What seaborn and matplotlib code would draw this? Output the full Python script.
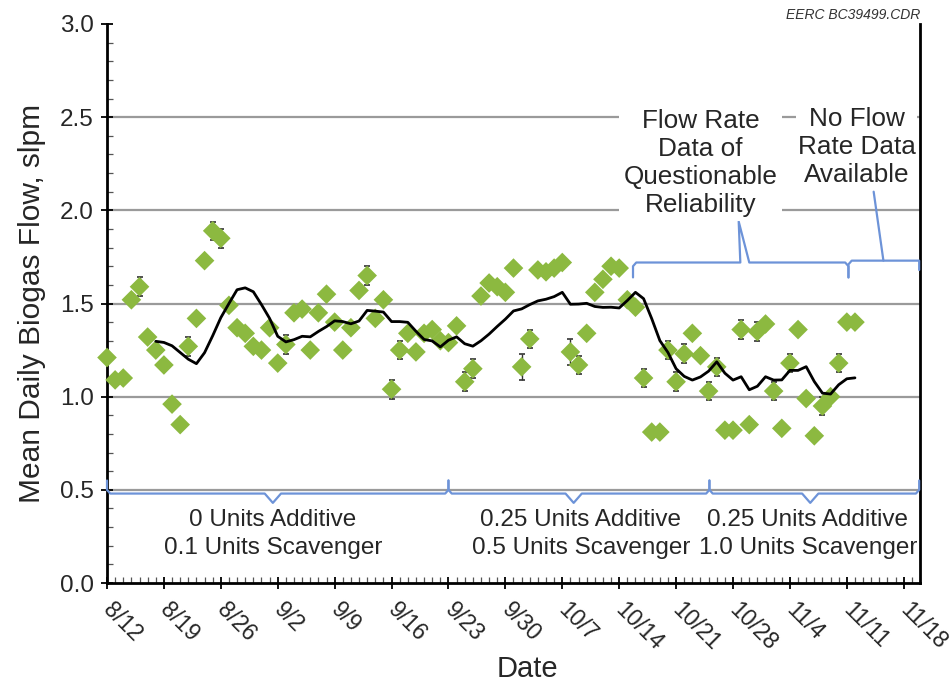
import numpy as np
import pandas as pd
import matplotlib
matplotlib.use("Agg")
import matplotlib.pyplot as plt
import seaborn as sns

# ---------------- data ----------------
tick_labels = ["8/12", "8/19", "8/26", "9/2", "9/9", "9/16", "9/23", "9/30",
               "10/7", "10/14", "10/21", "10/28", "11/4", "11/11", "11/18"]

# mean daily biogas flow (slpm), one value per day starting 8/12
flow = [1.21, 1.09, 1.10, 1.52, 1.59, 1.32, 1.25, 1.17, 0.96, 0.85,
        1.27, 1.42, 1.73, 1.89, 1.85, 1.49, 1.37, 1.34, 1.27, 1.25,
        1.37, 1.18, 1.28, 1.45, 1.47, 1.25, 1.45, 1.55, 1.40, 1.25,
        1.37, 1.57, 1.65, 1.42, 1.52, 1.04, 1.25, 1.34, 1.24, 1.34,
        1.36, 1.30, 1.29, 1.38, 1.08, 1.15, 1.54, 1.61, 1.59, 1.56,
        1.69, 1.16, 1.31, 1.68, 1.67, 1.69, 1.72, 1.24, 1.17, 1.34,
        1.56, 1.63, 1.70, 1.69, 1.52, 1.48, 1.10, 0.81, 0.81, 1.25,
        1.08, 1.23, 1.34, 1.22, 1.03, 1.16, 0.82, 0.82, 1.36, 0.85,
        1.35, 1.39, 1.03, 0.83, 1.18, 1.36, 0.99, 0.79, 0.95, 1.00,
        1.18, 1.40, 1.40]

flow_err = [0, 0, 0, 0, .05, 0, 0, 0, 0, 0,
            .05, 0, 0, .05, .05, 0, 0, 0, 0, 0,
            0, 0, .05, 0, 0, 0, 0, 0, 0, 0,
            0, 0, .05, 0, 0, .05, .05, 0, 0, 0,
            0, 0, 0, 0, .05, .05, 0, 0, 0, 0,
            0, .07, .05, 0, 0, 0, 0, .07, .05, 0,
            0, 0, 0, 0, 0, 0, .05, 0, 0, .05,
            .05, .05, 0, 0, .05, .05, 0, 0, .05, 0,
            .05, 0, .05, 0, .05, 0, 0, 0, .05, 0,
            .05, 0, 0]

# 7-day average line, days 6..92
avg7 = [1.297, 1.291, 1.273, 1.237, 1.201, 1.177, 1.236, 1.327, 1.424, 1.500,
        1.574, 1.584, 1.563, 1.494, 1.420, 1.324, 1.294, 1.306, 1.324, 1.321,
        1.350, 1.376, 1.407, 1.403, 1.391, 1.406, 1.463, 1.459, 1.454, 1.403,
        1.403, 1.399, 1.351, 1.307, 1.299, 1.267, 1.303, 1.321, 1.284, 1.271,
        1.300, 1.336, 1.377, 1.416, 1.460, 1.471, 1.494, 1.514, 1.523, 1.537,
        1.560, 1.496, 1.497, 1.501, 1.484, 1.479, 1.480, 1.476, 1.516, 1.560,
        1.526, 1.419, 1.301, 1.237, 1.150, 1.109, 1.089, 1.106, 1.137, 1.187,
        1.126, 1.089, 1.107, 1.037, 1.056, 1.107, 1.089, 1.090, 1.141, 1.141,
        1.161, 1.081, 1.019, 1.014, 1.064, 1.096, 1.101]

phase_labels = ["0 Units Additive\n0.1 Units Scavenger",
                "0.25 Units Additive\n0.5 Units Scavenger",
                "0.25 Units Additive\n1.0 Units Scavenger"]

days = np.arange(len(flow))
avg_days = np.arange(6, 6 + len(avg7))
df = pd.DataFrame({"day": days, "flow": flow, "err": flow_err})
df_avg = pd.DataFrame({"day": avg_days, "avg": avg7})

# ---------------- style ----------------
sns.set_style("ticks")
plt.rcParams["font.family"] = ["Liberation Sans", "DejaVu Sans"]

GREEN = "#8cb940"
BLUE = "#6d93d8"
GRID = "#9a9a9a"

fig = plt.figure(figsize=(9.53, 6.87), dpi=100)
ax = fig.add_axes([107 / 953, 1 - 583 / 687, (920 - 107) / 953, (583 - 24) / 687])

# grid lines
for g in [0.5, 1.0, 1.5, 2.0, 2.5]:
    ax.axhline(g, color=GRID, lw=1.6, zorder=0)

e = df[df["err"] > 0]
ax.errorbar(e["day"], e["flow"], yerr=e["err"], fmt="none", ecolor="#333333",
            elinewidth=1.0, capsize=2.5, capthick=1.2, zorder=2)
sns.scatterplot(data=df, x="day", y="flow", marker="D", s=100, color=GREEN,
                edgecolor="none", linewidth=0, ax=ax, zorder=3, legend=False,
                clip_on=False)
sns.lineplot(data=df_avg, x="day", y="avg", color="black", lw=2.0, ax=ax,
             zorder=5, legend=False)

# ---------------- braces ----------------
def bottom_brace(x0, x1, xm):
    xs = [x0, x0, x0 + 0.4, xm - 1.0, xm, xm + 1.0, x1 - 0.4, x1, x1]
    ys = [0.55, 0.50, 0.48, 0.48, 0.43, 0.48, 0.48, 0.50, 0.55]
    ax.plot(xs, ys, color=BLUE, lw=1.6, zorder=6, clip_on=False)

bottom_brace(0, 42, 20.4)
bottom_brace(42, 74.1, 57.4)
bottom_brace(74.1, 99.9, 86.5)

# questionable reliability brace
ax.plot([64.7, 64.7, 65.1, 77.9, 77.7, 79.0, 90.8, 91.2, 91.2],
        [1.64, 1.70, 1.72, 1.72, 1.94, 1.72, 1.72, 1.70, 1.64],
        color=BLUE, lw=1.6, zorder=6)
# no data brace
ax.plot([91.2, 91.2, 91.6, 99.9, 99.9], [1.64, 1.71, 1.73, 1.73, 1.68],
        color=BLUE, lw=1.6, zorder=6, clip_on=False)
ax.plot([94.3, 95.5], [2.10, 1.73], color=BLUE, lw=1.6, zorder=6)

# ---------------- text ----------------
phase_centers = [20.4, 58.3, 86.2]
for lab, xc in zip(phase_labels, phase_centers):
    ax.text(xc, 0.263, lab, ha="center", va="center", fontsize=17.5,
            linespacing=1.3, zorder=7)

ax.text(73.0, 2.255, "Flow Rate\nData of\nQuestionable\nReliability",
        ha="center", va="center", fontsize=18.8, linespacing=1.22, zorder=7,
        bbox=dict(facecolor="white", edgecolor="none", pad=3))
ax.text(92.2, 2.34, "No Flow\nRate Data\nAvailable",
        ha="center", va="center", fontsize=18.8, linespacing=1.22, zorder=7,
        bbox=dict(facecolor="white", edgecolor="none", pad=1))

fig.text(920 / 953, 1 - 15 / 687, "EERC BC39499.CDR", ha="right", va="center",
         fontsize=10, style="italic", color="#333333")

# ---------------- axes ----------------
ax.set_xlim(0, 100)
ax.set_ylim(0, 3.0)
ax.set_xticks(np.arange(0, 99, 7))
ax.set_xticklabels(tick_labels, rotation=-45, ha="left", va="center",
                   rotation_mode="anchor", fontsize=16.5)
ax.set_xticks(np.arange(0, 101, 1), minor=True)
ax.set_yticks(np.arange(0, 3.01, 0.5))
ax.set_yticklabels([f"{v:.1f}" for v in np.arange(0, 3.01, 0.5)], fontsize=17.5)
ax.set_yticks(np.arange(0, 3.01, 0.1), minor=True)
ax.tick_params(axis="both", which="major", direction="inout", length=9,
               width=1.3, color="black", pad=5)
ax.tick_params(axis="x", which="major", pad=12)
ax.tick_params(axis="both", which="minor", direction="in", length=4,
               width=0.9, color="#555555")
for side in ["left", "bottom", "right"]:
    ax.spines[side].set_linewidth(2.0)
    ax.spines[side].set_color("black")
ax.spines["top"].set_visible(False)

ax.set_xlabel("Date", fontsize=21)
ax.xaxis.set_label_coords(0.517, -0.128)
ax.set_ylabel("Mean Daily Biogas Flow, slpm", fontsize=21.5, labelpad=10)

fig.savefig("out.png", dpi=100)
